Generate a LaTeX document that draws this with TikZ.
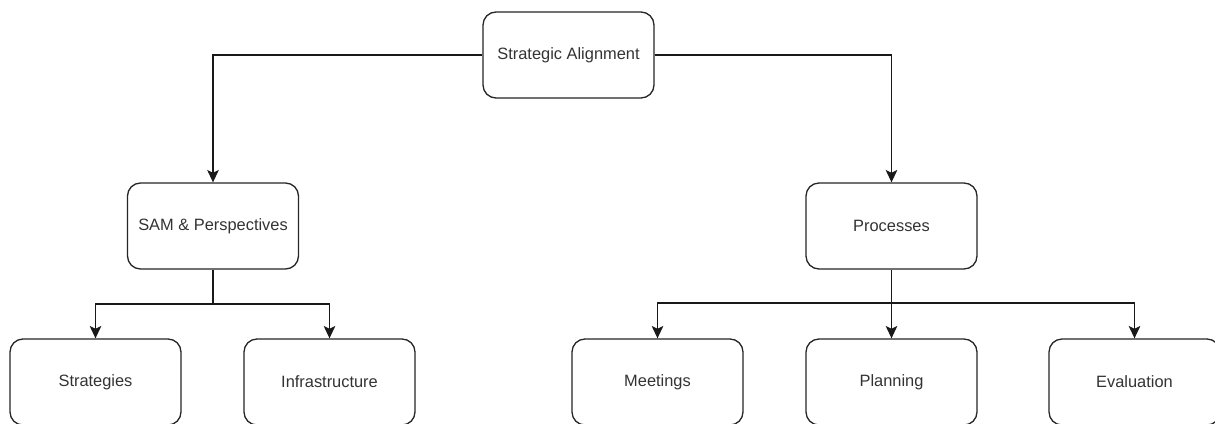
\documentclass[tikz,border=0pt]{standalone}
\usepackage{fontspec}
\setmainfont{Liberation Sans}
\usetikzlibrary{arrows.meta}
\begin{document}
\begin{tikzpicture}[x=0.5pt,y=-0.5pt,
  box/.style={draw=black!85, rounded corners=6.5pt, minimum width=85.5pt, minimum height=43pt,
    line width=0.65pt, font=\fontsize{8.2}{10}\selectfont, inner sep=0pt, text=black!80},
  conn/.style={line width=0.65pt, draw=black!90, -{Stealth[length=6.2pt,width=5.8pt,inset=1.4pt]}}]
\useasboundingbox (0,0) rectangle (1215,423);
\clip (0,0) rectangle (1215,423);
\fill[white] (0,0) rectangle (1215,423);
\node[box] (sa) at (568.5,55) {Strategic Alignment};
\node[box] (sam) at (213,226) {SAM \& Perspectives};
\node[box] (proc) at (891.5,226) {Processes};
\node[box] (str) at (95.5,382) {Strategies};
\node[box] (inf) at (329.5,382) {Infrastructure};
\node[box] (meet) at (657.5,382) {Meetings};
\node[box] (plan) at (891.5,382) {Planning};
\node[box] (eval) at (1134.5,382) {Evaluation};
\coordinate (lj) at (213,304);
\coordinate (rj) at (891.5,303);
\draw[conn] (sa.west) -| (sam.north);
\draw[conn] (sa.east) -| (proc.north);
\draw[line width=0.65pt, draw=black!90] (sam.south) -- (lj);
\draw[conn] (lj) -| (str.north);
\draw[conn] (lj) -| (inf.north);
\draw[conn] (proc.south) -- (plan.north);
\draw[conn] (rj) -| (meet.north);
\draw[conn] (rj) -| (eval.north);
\end{tikzpicture}
\end{document}
